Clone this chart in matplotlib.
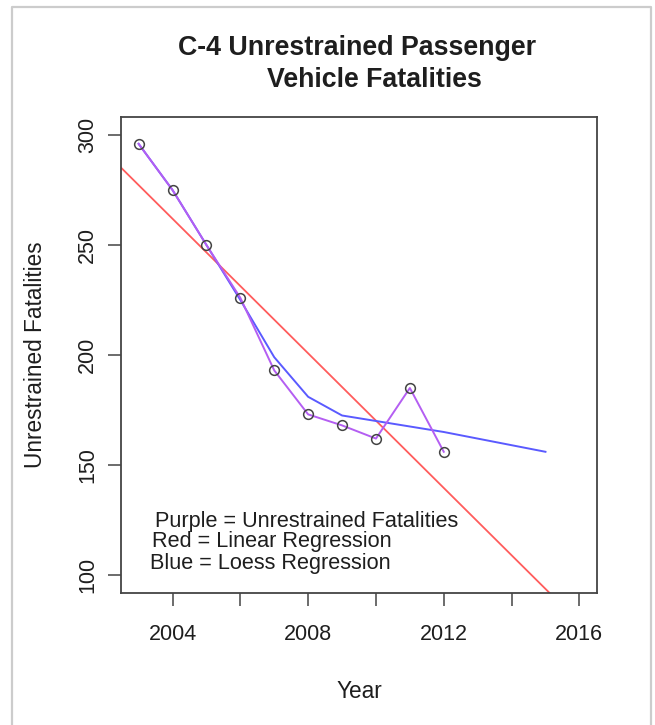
import numpy as np
import matplotlib.pyplot as plt

# unrestrained passenger vehicle fatalities
years = [2003, 2004, 2005, 2006, 2007, 2008, 2009, 2010, 2011, 2012]
fatalities = [296, 275, 250, 226, 193, 173, 168, 162, 185, 156]

# loess curve as drawn (extends to 2015)
loess_years = [2003, 2004, 2005, 2006, 2007, 2008, 2009, 2010, 2011, 2012, 2013, 2014, 2015]
loess_vals = [296, 275, 250, 225, 199, 181, 172.5, 170, 167.5, 165, 162, 159, 156]

xticks = [2004, 2006, 2008, 2010, 2012, 2014, 2016]
xticklabels = ['2004', '', '2008', '', '2012', '', '2016']
yticks = [100, 150, 200, 250, 300]

notes = ['Purple = Unrestrained Fatalities',
         'Red = Linear Regression',
         'Blue = Loess Regression']

plt.rcParams['font.family'] = ['Liberation Sans', 'DejaVu Sans']
txt = '#1e1e1e'

fig = plt.figure(figsize=(6.55, 7.25), dpi=100)
ax = fig.add_axes([121 / 655, 1 - 593 / 725, 476 / 655, 476 / 725])

# linear fit
slope, icpt = np.polyfit(years, fatalities, 1)
ax.axline((2003, slope * 2003 + icpt), slope=slope, color='#ff5c5c', lw=1.3)

ax.plot(loess_years, loess_vals, color='#5a5aff', lw=1.4)
ax.plot(years, fatalities, color='#b45ef2', lw=1.4)
ax.plot(years, fatalities, ls='none', marker='o', ms=7, mfc='none',
        mec='#444444', mew=1.1)

ax.set_xlim(2002.48, 2016.52)
ax.set_ylim(91.8, 308.2)
ax.set_xticks(xticks)
ax.set_xticklabels(xticklabels)
ax.set_yticks(yticks)
ax.set_yticklabels([str(v) for v in yticks], rotation=90, va='center')

ax.tick_params(axis='both', direction='out', length=9.5, width=1.1,
               color='#444444', labelsize=15.5, labelcolor=txt)
ax.tick_params(axis='x', pad=13)
ax.tick_params(axis='y', pad=7)
for s in ax.spines.values():
    s.set_color('#444444')
    s.set_linewidth(1.3)

ax.set_xlabel('Year', fontsize=16.3, color=txt, labelpad=25)
ax.set_ylabel('Unrestrained Fatalities', fontsize=16.3, color=txt, labelpad=22)

ax.text(2003.48, 124.5, notes[0], fontsize=15.6, color=txt, va='center')
ax.text(2003.38, 115.0, notes[1], fontsize=15.6, color=txt, va='center')
ax.text(2003.35, 105.0, notes[2], fontsize=15.6, color=txt, va='center')

fig.text(357 / 655, 1 - 48 / 725, 'C-4 Unrestrained Passenger', ha='center',
         va='center', fontsize=19.3, fontweight='bold', color=txt)
fig.text(374 / 655, 1 - 80 / 725, 'Vehicle Fatalities', ha='center',
         va='center', fontsize=19.3, fontweight='bold', color=txt)

# light gray frame around the picture (open at the bottom)
fx = [12 / 655, 12 / 655, 651 / 655, 651 / 655]
fy = [0, 1 - 7 / 725, 1 - 7 / 725, 0]
fig.add_artist(plt.Line2D(fx, fy, transform=fig.transFigure,
                          color='#cccccc', lw=1.6))

fig.savefig('out.png', dpi=100)
